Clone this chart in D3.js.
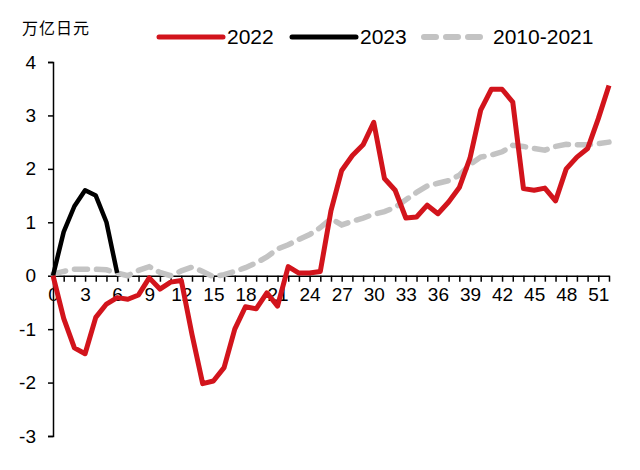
<!DOCTYPE html>
<html><head><meta charset="utf-8">
<script src="https://cdn.jsdelivr.net/npm/d3@7"></script>
<style>body{margin:0;background:#fff}svg{display:block}</style>
</head><body>
<script>
const weeks = d3.range(0, 53);
const s2022 = [0,-0.8,-1.35,-1.46,-0.78,-0.53,-0.41,-0.44,-0.36,-0.04,-0.25,-0.12,-0.09,-1.1,-2.02,-1.97,-1.72,-1.0,-0.58,-0.62,-0.32,-0.57,0.17,0.05,0.05,0.08,1.22,1.97,2.25,2.45,2.87,1.82,1.6,1.08,1.1,1.32,1.16,1.38,1.65,2.2,3.1,3.49,3.49,3.25,1.63,1.6,1.64,1.4,2.0,2.22,2.38,2.94,3.56];
const s2023 = [0,0.82,1.3,1.6,1.5,1.0,0.05];
const sHist = [0.03,0.08,0.12,0.12,0.12,0.11,0.05,0.0,0.1,0.17,0.06,0.0,0.09,0.16,0.08,-0.02,0.02,0.08,0.15,0.24,0.35,0.5,0.58,0.68,0.77,0.9,1.07,0.95,1.02,1.08,1.15,1.2,1.28,1.42,1.56,1.68,1.73,1.78,1.88,2.08,2.22,2.26,2.32,2.44,2.42,2.38,2.35,2.42,2.46,2.45,2.45,2.47,2.5];
const yTicks = [-3,-2,-1,0,1,2,3,4];
const xTickLabels = d3.range(0, 52, 3);
const seriesNames = ["2022","2023","2010-2021"];
const unitLabel = "万亿日元";

const W = 640, H = 470;
const svg = d3.select("body").append("svg").attr("width", W).attr("height", H);
const x = d3.scaleLinear().domain([0, 52]).range([53, 609]);
const y = d3.scaleLinear().domain([-3, 4]).range([436, 62]);
const font = "'Liberation Sans', Arial, sans-serif";

// y axis
const ya = svg.append("g").attr("transform", `translate(${x(0)},0)`)
  .call(d3.axisLeft(y).tickValues(yTicks).tickSize(5).tickPadding(12).tickFormat(d => String(d)));
ya.select(".domain").attr("stroke", "#000").attr("stroke-width", 1.5);
ya.selectAll(".tick line").attr("stroke", "#000").attr("stroke-width", 1.5);
ya.selectAll("text").attr("font-family", font).attr("font-size", 19).attr("fill", "#000");

// x axis at y=0
const xa = svg.append("g").attr("transform", `translate(0,${y(0)})`)
  .call(d3.axisBottom(x).tickValues(weeks).tickSize(6).tickSizeOuter(0).tickPadding(6)
    .tickFormat(d => xTickLabels.includes(d) ? String(d) : ""));
xa.select(".domain").attr("stroke", "#000").attr("stroke-width", 1.5);
xa.selectAll(".tick line").attr("stroke", "#000").attr("stroke-width", 1.5);
xa.selectAll("text").attr("font-family", font).attr("font-size", 19).attr("fill", "#000");

const line = d3.line().x((d, i) => x(i)).y(d => y(d));

svg.append("path").datum(sHist).attr("d", line).attr("fill", "none")
  .attr("stroke", "#c3c3c3").attr("stroke-width", 5.5).attr("stroke-dasharray", "13,9")
  .attr("stroke-linecap", "round");
svg.append("path").datum(s2023).attr("d", line).attr("fill", "none")
  .attr("stroke", "#000").attr("stroke-width", 4.5).attr("stroke-linejoin", "round");
svg.append("path").datum(s2022).attr("d", line).attr("fill", "none")
  .attr("stroke", "#d2141c").attr("stroke-width", 5).attr("stroke-linejoin", "round");

// unit label
svg.append("text").attr("x", 22).attr("y", 34).text(unitLabel)
  .attr("font-family", "'Noto Sans CJK SC', sans-serif").attr("font-size", 16).attr("fill", "#000")
  .attr("letter-spacing", 1);

// legend
const legendItems = [
  {name: seriesNames[0], x1: 159, x2: 223, tx: 227, color: "#d2141c", dash: null, w: 5},
  {name: seriesNames[1], x1: 292, x2: 356, tx: 360, color: "#000", dash: null, w: 5},
  {name: seriesNames[2], x1: 424, x2: 484, tx: 493, color: "#c3c3c3", dash: "12,10", w: 6}
];
const lg = svg.append("g");
legendItems.forEach(it => {
  lg.append("line").attr("x1", it.x1).attr("x2", it.x2).attr("y1", 37).attr("y2", 37)
    .attr("stroke", it.color).attr("stroke-width", it.w).attr("stroke-linecap", "round")
    .attr("stroke-dasharray", it.dash);
  lg.append("text").attr("x", it.tx).attr("y", 44).text(it.name)
    .attr("font-family", font).attr("font-size", 21).attr("fill", "#000");
});
</script>
</body></html>
